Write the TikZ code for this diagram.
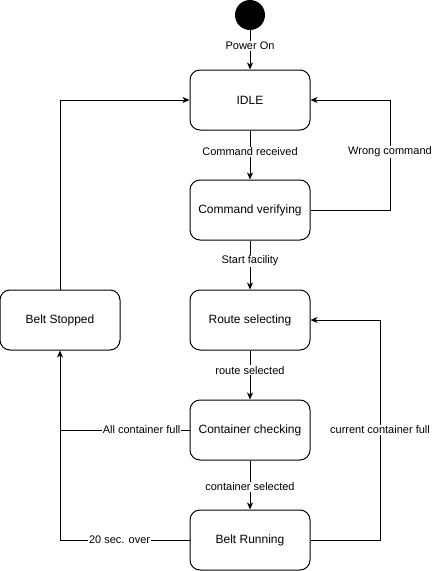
\documentclass[tikz,border=0pt]{standalone}
\usepackage{fontspec}
\setmainfont{Liberation Sans}
\usetikzlibrary{arrows.meta}
\begin{document}
\begin{tikzpicture}[x=1pt,y=-1pt,
  state/.style={draw,line width=1pt,rounded corners=10pt,minimum width=120pt,minimum height=60pt,inner sep=0pt,font=\fontsize{12}{14}\selectfont},
  conn/.style={line width=1pt,-{Stealth[length=7pt,width=6pt,inset=2pt]}},
  plain/.style={line width=1pt},
  lbl/.style={fill=white,inner sep=1pt,font=\fontsize{11}{13}\selectfont}]
\useasboundingbox (0,0) rectangle (436,571);
\node[circle,fill=black,minimum size=30pt,inner sep=0pt] (start) at (250,15) {};
\node[state] (idle) at (250,100) {IDLE};
\node[state] (cv) at (250,210) {Command verifying};
\node[state] (rs) at (250,320) {Route selecting};
\node[state] (cc) at (250,430) {Container checking};
\node[state] (br) at (250,540) {Belt Running};
\node[state] (bs) at (60,320) {Belt Stopped};
\coordinate (wc1) at (390,210);
\coordinate (wc2) at (390,100);
\coordinate (cf1) at (380,540);
\coordinate (cf2) at (380,320);
\coordinate (ac) at (60,430);
\coordinate (so) at (60,540);
\coordinate (bt) at (60,100);

\draw[conn] (start) -- node[lbl,pos=0.4] {Power On} (idle);
\draw[conn] (idle) -- node[lbl,pos=0.44] {Command received} (cv);
\draw[conn] (cv.east) -- (wc1) -- node[lbl,pos=0.53] {Wrong command} (wc2) -- (idle.east);
\draw[conn] (cv) -- node[lbl,pos=0.42] {Start facility} (rs);
\draw[conn] (rs) -- node[lbl,pos=0.4] {route selected} (cc);
\draw[conn] (cc) -- node[lbl,pos=0.54] {container selected} (br);
\draw[conn] (br.east) -- (cf1) -- node[lbl,pos=0.5] {current container full} (cf2) -- (rs.east);
\draw[conn] (cc.west) -- node[lbl,pos=0.37] {All container full} (ac) -- (bs.south);
\draw[plain] (br.west) -- node[lbl,pos=0.54] {20 sec. over} (so) -- (ac);
\draw[conn] (bs.north) -- (bt) -- (idle.west);
\end{tikzpicture}
\end{document}
